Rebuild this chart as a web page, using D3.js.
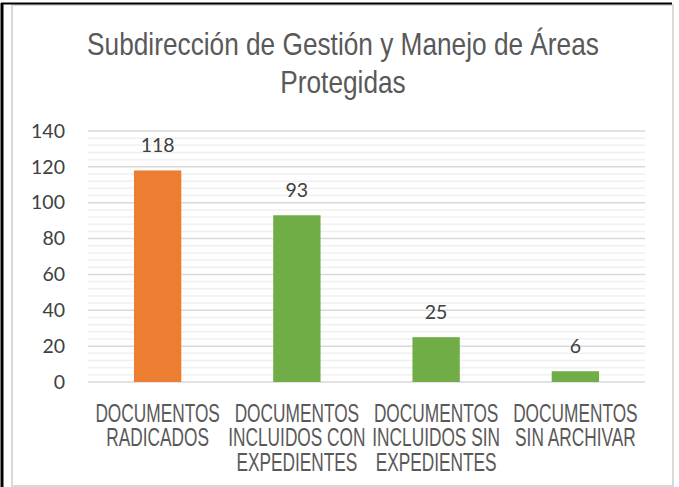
<!DOCTYPE html>
<html>
<head>
<meta charset="utf-8">
<script src="https://cdn.jsdelivr.net/npm/d3@7"></script>
<style>
  body { margin: 0; background: #fff; }
  svg { display: block; }
  .narrow { font-family: "Liberation Sans", Arial, sans-serif; fill: #595959; }
  .num { font-family: "Lato", "Open Sans", sans-serif; fill: #404040; }
  .tick text { font-family: "Lato", "Open Sans", sans-serif; fill: #404040; }
</style>
</head>
<body>
<div id="chart"></div>
<script>
// chart data
const categories = [
    ["DOCUMENTOS", "RADICADOS"],
    ["DOCUMENTOS", "INCLUIDOS CON", "EXPEDIENTES"],
    ["DOCUMENTOS", "INCLUIDOS SIN", "EXPEDIENTES"],
    ["DOCUMENTOS", "SIN ARCHIVAR"]
];
const values = [118, 93, 25, 6];
const barColors = ["#ED7D31", "#70AD47", "#70AD47", "#70AD47"];
const titleLines = ["Subdirección de Gestión y Manejo de Áreas", "Protegidas"];
const yTicks = [0, 20, 40, 60, 80, 100, 120, 140];

const width = 679;
const height = 487;
const margin = {top: 131, left: 88, right: 34, bottom: 105};

const svg = d3.select("#chart")
    .append("svg")
    .attr("width", width)
    .attr("height", height);

// frame: light gray chart border + black page edge
svg.append("rect")
    .attr("x", 12).attr("y", 5)
    .attr("width", 661).attr("height", 481)
    .attr("fill", "none")
    .attr("stroke", "#d9d9d9")
    .attr("stroke-width", 2);

svg.append("line")
    .attr("x1", 2).attr("x2", 2).attr("y1", 3).attr("y2", height)
    .attr("stroke", "#000").attr("stroke-width", 3);
svg.append("line")
    .attr("x1", 1).attr("x2", 672).attr("y1", 3.5).attr("y2", 3.5)
    .attr("stroke", "#000").attr("stroke-width", 2);

const xScale = d3.scaleBand()
    .domain(d3.range(categories.length))
    .range([margin.left, width - margin.right])
    .paddingInner(0.66)
    .paddingOuter(0.33);

const yScale = d3.scaleLinear()
    .domain([0, 140])
    .range([height - margin.bottom, margin.top]);

// minor gridlines
svg.append("g")
    .selectAll("line")
    .data(d3.range(0, 141, 4).filter(function(d) { return d % 20 !== 0; }))
    .enter()
    .append("line")
    .attr("x1", margin.left).attr("x2", width - margin.right)
    .attr("y1", function(d) { return yScale(d); })
    .attr("y2", function(d) { return yScale(d); })
    .attr("stroke", "#f0f0f0")
    .attr("stroke-width", 1.5);

// major gridlines
svg.append("g")
    .selectAll("line")
    .data(yTicks)
    .enter()
    .append("line")
    .attr("x1", margin.left).attr("x2", width - margin.right)
    .attr("y1", function(d) { return yScale(d); })
    .attr("y2", function(d) { return yScale(d); })
    .attr("stroke", "#d9d9d9")
    .attr("stroke-width", 1.5);

// y axis labels
const yAxis = svg.append("g")
    .attr("transform", `translate(${margin.left},0)`)
    .call(d3.axisLeft(yScale).tickValues(yTicks).tickSize(0).tickPadding(23));
yAxis.select(".domain").remove();
yAxis.selectAll("text").style("font-size", "19.5px");

// bars
svg.selectAll("rect.bar")
    .data(values)
    .enter()
    .append("rect")
    .attr("class", "bar")
    .attr("x", function(d, i) { return xScale(i); })
    .attr("y", function(d) { return yScale(d); })
    .attr("width", xScale.bandwidth())
    .attr("height", function(d) { return yScale(0) - yScale(d); })
    .attr("fill", function(d, i) { return barColors[i]; });

// value labels
svg.selectAll("text.val")
    .data(values)
    .enter()
    .append("text")
    .attr("class", "num")
    .attr("x", function(d, i) { return xScale(i) + xScale.bandwidth() / 2; })
    .attr("y", function(d) { return yScale(d) - 18; })
    .attr("text-anchor", "middle")
    .style("font-size", "19.5px")
    .text(function(d) { return d; });

// category labels (condensed horizontally)
const catG = svg.selectAll("g.cat")
    .data(categories)
    .enter()
    .append("g")
    .attr("class", "cat")
    .attr("transform", function(d, i) {
        return `translate(${xScale(i) + xScale.bandwidth() / 2},0) scale(0.665,1)`;
    })
    .append("text")
    .attr("class", "narrow")
    .attr("text-anchor", "middle")
    .style("font-size", "26px");

catG.selectAll("tspan")
    .data(function(d) { return d; })
    .enter()
    .append("tspan")
    .attr("x", 0)
    .attr("y", function(d, j) { return 422 + j * 24.5; })
    .text(function(d) { return d; });

// title (condensed horizontally)
svg.selectAll("text.title")
    .data(titleLines)
    .enter()
    .append("text")
    .attr("class", "narrow")
    .attr("transform", function(d, i) { return `translate(343,${55 + i * 38}) scale(0.82,1)`; })
    .attr("text-anchor", "middle")
    .style("font-size", "32px")
    .text(function(d) { return d; });
</script>
</body>
</html>
